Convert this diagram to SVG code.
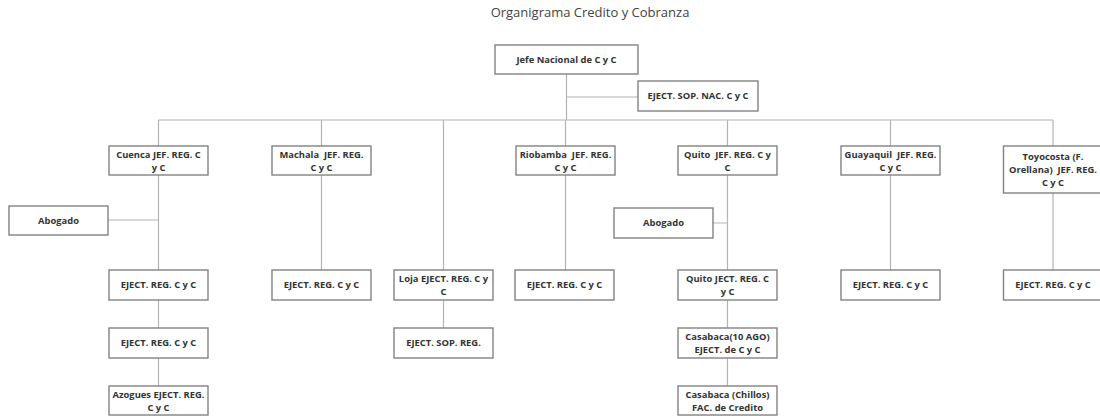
<svg xmlns="http://www.w3.org/2000/svg" width="1100" height="416" viewBox="0 0 1100 416">
  <style>
    .box { fill: #ffffff; stroke: #828282; stroke-width: 1.4; }
    .lbl { font-family: "Open Sans", "Liberation Sans", sans-serif; font-weight: 700; font-size: 9.4px; fill: #333333; text-anchor: middle; white-space: pre; }
    .title { font-family: "Open Sans", "Liberation Sans", sans-serif; font-size: 13px; fill: #444444; text-anchor: middle; }
    .conn { fill: none; stroke: #b4b4b4; stroke-width: 1.2; }
  </style>
  <rect width="1100" height="416" fill="#ffffff"/>
  <text class="title" x="590" y="17">Organigrama Credito y Cobranza</text>

  <g id="connectors" class="conn">
    <!-- national head to bus -->
    <path d="M566.5 74 V120 M566.5 97 H638"/>
    <path d="M158.5 120 H1053"/>
    <!-- Cuenca -->
    <path d="M158.5 120 V146 M158.5 175 V270 M108 220 H158.5 M158.5 300 V328 M158.5 358 V386"/>
    <!-- Machala -->
    <path d="M321.5 120 V146 M321.5 175 V270"/>
    <!-- Loja -->
    <path d="M443.5 120 V270 M443.5 300 V328"/>
    <!-- Riobamba -->
    <path d="M565.5 146 V120 M565.5 175 V270"/>
    <!-- Quito -->
    <path d="M727.5 120 V146 M727.5 175 V270 M713 223 H727.5 M727.5 300 V328 M727.5 358 V386"/>
    <!-- Guayaquil -->
    <path d="M890.5 120 V146 M890.5 175 V270"/>
    <!-- Toyocosta -->
    <path d="M1053 120 V146 M1053 193 V270"/>
  </g>

  <g id="jefe-nacional"><rect class="box" x="495" y="45" width="143" height="29"/><text class="lbl" x="566.5" y="62.5">Jefe Nacional de C y C</text></g>
  <g id="eject-sop-nac"><rect class="box" x="638" y="81" width="120" height="30"/><text class="lbl" x="698" y="99">EJECT. SOP. NAC. C y C</text></g>

  <g id="cuenca-jef"><rect class="box" x="109" y="146" width="99" height="29"/><text class="lbl" x="158.5" y="158">Cuenca JEF. REG. C<tspan x="158.5" dy="12.5">y C</tspan></text></g>
  <g id="abogado-cuenca"><rect class="box" x="9" y="206" width="99" height="29"/><text class="lbl" x="58.5" y="223.5">Abogado</text></g>
  <g id="cuenca-eject-1"><rect class="box" x="109" y="270" width="99" height="30"/><text class="lbl" x="158.5" y="288">EJECT. REG. C y C</text></g>
  <g id="cuenca-eject-2"><rect class="box" x="109" y="328" width="99" height="30"/><text class="lbl" x="158.5" y="346">EJECT. REG. C y C</text></g>
  <g id="azogues-eject"><rect class="box" x="109" y="386" width="99" height="29"/><text class="lbl" x="158.5" y="398">Azogues EJECT. REG.<tspan x="158.5" dy="12.5">C y C</tspan></text></g>

  <g id="machala-jef"><rect class="box" x="272" y="146" width="99" height="29"/><text class="lbl" x="321.5" y="158">Machala  JEF. REG.<tspan x="321.5" dy="12.5">C y C</tspan></text></g>
  <g id="machala-eject"><rect class="box" x="272" y="270" width="99" height="30"/><text class="lbl" x="321.5" y="288">EJECT. REG. C y C</text></g>

  <g id="loja-eject"><rect class="box" x="394" y="270" width="99" height="30"/><text class="lbl" x="443.5" y="282">Loja EJECT. REG. C y<tspan x="443.5" dy="12.5">C</tspan></text></g>
  <g id="loja-sop"><rect class="box" x="394" y="328" width="99" height="30"/><text class="lbl" x="443.5" y="346">EJECT. SOP. REG.</text></g>

  <g id="riobamba-jef"><rect class="box" x="516" y="146" width="99" height="29"/><text class="lbl" x="565.5" y="158">Riobamba  JEF. REG.<tspan x="565.5" dy="12.5">C y C</tspan></text></g>
  <g id="riobamba-eject"><rect class="box" x="515" y="270" width="99" height="30"/><text class="lbl" x="564.5" y="288">EJECT. REG. C y C</text></g>

  <g id="quito-jef"><rect class="box" x="678" y="146" width="99" height="29"/><text class="lbl" x="727.5" y="158">Quito  JEF. REG. C y<tspan x="727.5" dy="12.5">C</tspan></text></g>
  <g id="abogado-quito"><rect class="box" x="614" y="208" width="99" height="30"/><text class="lbl" x="663.5" y="226">Abogado</text></g>
  <g id="quito-ject"><rect class="box" x="678" y="270" width="99" height="30"/><text class="lbl" x="727.5" y="282">Quito JECT. REG. C<tspan x="727.5" dy="12.5">y C</tspan></text></g>
  <g id="casabaca-10ago"><rect class="box" x="678" y="328" width="99" height="30"/><text class="lbl" x="727.5" y="340">Casabaca(10 AGO)<tspan x="727.5" dy="12.5">EJECT. de C y C</tspan></text></g>
  <g id="casabaca-chillos"><rect class="box" x="678" y="386" width="99" height="29"/><text class="lbl" x="727.5" y="398">Casabaca (Chillos)<tspan x="727.5" dy="12.5">FAC. de Credito</tspan></text></g>

  <g id="guayaquil-jef"><rect class="box" x="841" y="146" width="99" height="29"/><text class="lbl" x="890.5" y="158">Guayaquil  JEF. REG.<tspan x="890.5" dy="12.5">C y C</tspan></text></g>
  <g id="guayaquil-eject"><rect class="box" x="841" y="270" width="99" height="30"/><text class="lbl" x="890.5" y="288">EJECT. REG. C y C</text></g>

  <g id="toyocosta-jef"><rect class="box" x="1003.5" y="146" width="99" height="47"/><text class="lbl" x="1053" y="160">Toyocosta (F.<tspan x="1053" dy="13">Orellana)  JEF. REG.</tspan><tspan x="1053" dy="13">C y C</tspan></text></g>
  <g id="toyocosta-eject"><rect class="box" x="1003.5" y="270" width="99" height="30"/><text class="lbl" x="1053" y="288">EJECT. REG. C y C</text></g>
</svg>
